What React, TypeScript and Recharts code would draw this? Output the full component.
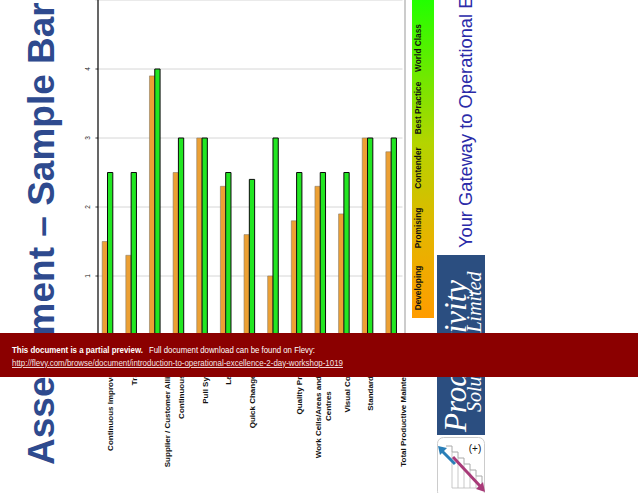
import React from 'react'
import { BarChart, Bar, XAxis, YAxis, CartesianGrid } from 'recharts'

// categories (newlines = label line breaks, empty lines keep the slide's centring)
const categories = [
  'Continuous Improvement',
  'Training',
  '\n\nSupplier / Customer Alliances',
  'Continuous Flow',
  'Pull Systems',
  'Layouts',
  'Quick Change Over',
  '5S',
  'Quality Process',
  'Work Cells/Areas and Work\nCentres',
  'Visual Controls',
  'Standard Work',
  '\n\nTotal Productive Maintenance',
]
const currentScore = [1.5, 1.3, 3.9, 2.5, 3, 2.3, 1.6, 1, 1.8, 2.3, 1.9, 3, 2.8]
const targetScore = [2.5, 2.5, 4, 3, 3, 2.5, 2.4, 3, 2.5, 2.5, 2.5, 3, 3]
const valueTicks = [0, 1, 2, 3, 4]
const scaleLevels = ['Developing', 'Promising', 'Contender', 'Best Practice', 'World Class']

const data = categories.map((name, i) => ({ name, current: currentScore[i], target: targetScore[i] }))

const FONT = 'Liberation Sans, Arial, sans-serif'

let ctx: CanvasRenderingContext2D | null = null
const measure = (text: string, font: string) => {
  if (!ctx) ctx = document.createElement('canvas').getContext('2d')
  if (!ctx) return text.length * 4.5
  ctx.font = font
  return ctx.measureText(text).width
}

const CategoryTick = (props: any) => {
  const { x, y, payload } = props
  const lines = String(payload.value).split('\n')
  const widest = Math.max(...lines.map((l) => measure(l, 'bold 8px "Liberation Sans"')))
  const yc = y + 7 + widest / 2
  return (
    <g>
      {lines.map((l, i) => {
        if (!l) return null
        const bx = x + 6.2 + (i - (lines.length - 1) / 2) * 9.3
        return (
          <text
            key={i}
            x={bx}
            y={yc}
            transform={`rotate(-90 ${bx} ${yc})`}
            textAnchor="middle"
            fontSize={8}
            fontWeight="bold"
            fontFamily={FONT}
            fill="#111"
          >
            {l}
          </text>
        )
      })}
    </g>
  )
}

const ValueTick = (props: any) => {
  const { y, payload } = props
  return (
    <g>
      <line x1={95.5} x2={98} y1={y} y2={y} stroke="#333" strokeWidth={0.8} />
      <text
        x={90.3}
        y={y}
        transform={`rotate(-90 90.3 ${y})`}
        textAnchor="middle"
        fontSize={6.5}
        fontFamily={FONT}
        fill="#222"
      >
        {payload.value}
      </text>
    </g>
  )
}

const Overlay = () => {
  const barBottom = 318
  return (
    <svg width={638} height={493} style={{ position: 'absolute', left: 0, top: 0, pointerEvents: 'none' }}>
      <defs>
        <linearGradient id="levels" x1="0" y1="0" x2="0" y2="1">
          <stop offset="0%" stopColor="#22ff00" />
          <stop offset="45%" stopColor="#b4d400" />
          <stop offset="75%" stopColor="#e6b400" />
          <stop offset="100%" stopColor="#ff9c00" />
        </linearGradient>
      </defs>

      {/* axis line and plot border */}
      <line x1={98} x2={98} y1={0} y2={345} stroke="#000" strokeWidth={1.2} />
      <line x1={405} x2={405} y1={0} y2={345} stroke="#999" strokeWidth={1} />

      {/* title */}
      <text
        x={54}
        y={465}
        transform="rotate(-90 54 465)"
        fontSize={37}
        fontWeight="bold"
        fontFamily={FONT}
        fill="#2e4a8e"
      >
        Assessment – Sample Bar Chart
      </text>

      {/* level scale */}
      <rect x={412} y={0} width={22} height={barBottom} fill="url(#levels)" />
      {scaleLevels.map((lvl, i) => {
        const cy = barBottom - 30 - 60 * i
        return (
          <text
            key={lvl}
            x={421}
            y={cy}
            transform={`rotate(-90 421 ${cy})`}
            textAnchor="middle"
            fontSize={8.3}
            fontWeight="bold"
            fontFamily={FONT}
            fill="#111"
          >
            {lvl}
          </text>
        )
      })}

      <text
        x={472}
        y={248}
        transform="rotate(-90 472 248)"
        fontSize={18.3}
        fontFamily={FONT}
        fill="#2a2aa8"
      >
        Your Gateway to Operational Excellence
      </text>

      {/* logo */}
      <rect x={437} y={255} width={48} height={180} fill="#2b4e80" />
      <text
        x={466}
        y={432}
        transform="rotate(-90 466 432)"
        fontSize={31}
        fontStyle="italic"
        fontFamily="Liberation Serif, serif"
        fill="#fff"
      >
        Productivity
      </text>
      <text
        x={481}
        y={412}
        transform="rotate(-90 481 412)"
        fontSize={20}
        fontStyle="italic"
        fontFamily="Liberation Serif, serif"
        fill="#fff"
      >
        Solutions Limited
      </text>
      <rect x={437.5} y={437.5} width={47} height={60} rx={6} fill="#fff" stroke="#ccc" />
      <polyline
        points="446,446 452,446 452,452 458,452 458,458 464,458 464,464 470,464 470,470 476,470 476,476 482,476 482,488"
        fill="none"
        stroke="#aaa"
        strokeWidth={1}
      />
      <line x1={452} y1={452} x2={452} y2={488} stroke="#bbb" strokeWidth={0.8} />
      <line x1={452} y1={488} x2={482} y2={488} stroke="#bbb" strokeWidth={0.8} />
      <line x1={458} y1={458} x2={458} y2={488} stroke="#bbb" strokeWidth={0.8} />
      <line x1={464} y1={464} x2={464} y2={488} stroke="#bbb" strokeWidth={0.8} />
      <line x1={470} y1={470} x2={470} y2={488} stroke="#bbb" strokeWidth={0.8} />
      <line x1={476} y1={476} x2={476} y2={488} stroke="#bbb" strokeWidth={0.8} />
      <line x1={455} y1={464} x2={442} y2={451} stroke="#2a7fb8" strokeWidth={3} />
      <polygon points="438,446 447,448 440,455" fill="#2a7fb8" />
      <line x1={453} y1={457} x2={480} y2={486} stroke="#a83a78" strokeWidth={3} />
      <polygon points="485,492 476,489 483,482" fill="#a83a78" />
      <text x={475} y={452} textAnchor="middle" fontSize={10} fontFamily={FONT} fill="#111">
        (+)
      </text>

      {/* preview banner */}
      <rect x={0} y={333} width={638} height={44} fill="#8b0000" />
      <text x={12} y={353} fontSize={9.3} fontWeight="bold" fontFamily={FONT} fill="#fff" textLength={131} lengthAdjust="spacingAndGlyphs">
        This document is a partial preview.
      </text>
      <text x={149} y={353} fontSize={9.3} fontFamily={FONT} fill="#fff" textLength={166} lengthAdjust="spacingAndGlyphs">
        Full document download can be found on Flevy:
      </text>
      <text
        x={12}
        y={366}
        fontSize={9.3}
        fontFamily={FONT}
        fill="#f4e4e4"
        textDecoration="underline"
        textLength={331}
        lengthAdjust="spacingAndGlyphs"
      >
        http://flevy.com/browse/document/introduction-to-operational-excellence-2-day-workshop-1019
      </text>
    </svg>
  )
}

export default function App() {
  return (
    <div style={{ position: 'absolute', left: 0, top: 0, width: 638, height: 493, overflow: 'hidden', background: '#fff' }}>
      <BarChart
        width={420}
        height={493}
        data={data}
        margin={{ top: 0, right: 17.5, bottom: 0, left: 0 }}
        barGap={0}
        barSize={5.3}
      >
        <CartesianGrid vertical={false} stroke="#d6d6d6" />
        <XAxis
          dataKey="name"
          height={148}
          interval={0}
          axisLine={false}
          tickLine={false}
          tickSize={0}
          tick={<CategoryTick />}
        />
        <YAxis
          domain={[0, 5]}
          ticks={valueTicks}
          width={95.2}
          axisLine={false}
          tickLine={false}
          tick={<ValueTick />}
        />
        <Bar dataKey="current" fill="#eca034" stroke="#8a7a66" strokeWidth={0.6} isAnimationActive={false} />
        <Bar dataKey="target" fill="#22e622" stroke="#0a0a0a" strokeWidth={1} isAnimationActive={false} />
      </BarChart>
      <Overlay />
    </div>
  )
}
